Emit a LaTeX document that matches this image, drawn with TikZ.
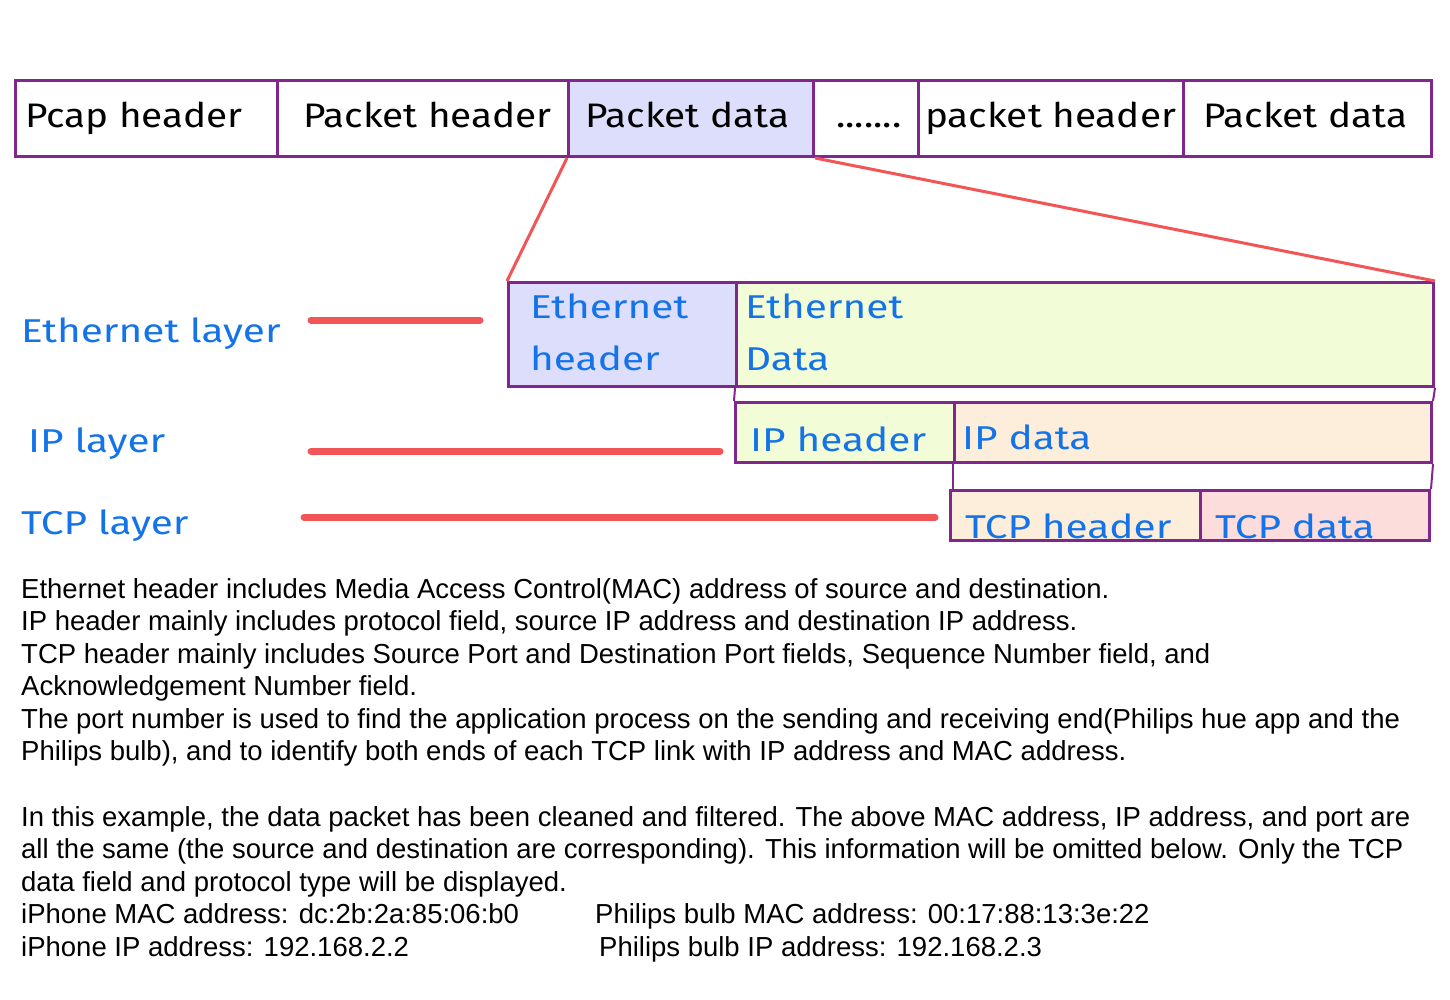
\documentclass[tikz,border=0pt]{standalone}
\usepackage{fontspec}
\setmainfont{Liberation Sans}
\newfontfamily\hand[FakeStretch=1.14]{Fira Sans}
\newfontfamily\bhand[FakeStretch=1.23]{Fira Sans}
\definecolor{pur}{RGB}{128,38,140}
\definecolor{lav}{RGB}{220,222,252}
\definecolor{lgreen}{RGB}{242,252,214}
\definecolor{lorange}{RGB}{253,238,220}
\definecolor{lpink}{RGB}{253,220,220}
\definecolor{redl}{RGB}{242,85,85}
\definecolor{blu}{RGB}{20,115,232}
\begin{document}
\begin{tikzpicture}[x=1pt,y=-1pt,
  box/.style={draw=pur, line width=3pt, inner sep=0pt, anchor=north west},
  toptxt/.style={font=\hand\fontsize{34}{40}\selectfont, text=black, inner sep=0pt},
  bluetxt/.style={font=\bhand\fontsize{33}{40}\selectfont, text=blu, inner sep=0pt, anchor=base west},
  body/.style={font=\fontsize{27.5}{32.5}\selectfont, inner sep=0pt, anchor=base west},
  zoomline/.style={draw=redl, line width=3pt},
  layerline/.style={draw=redl, line width=7pt, line cap=round},
  link/.style={draw=pur, line width=2pt}]
\useasboundingbox[fill=white] (0,0) rectangle (1450,1000);

% top row
\node[box, minimum width=262, minimum height=76] (pcap) at (14,79) {};
\node[box, minimum width=291, minimum height=76] (ph1) at (276,79) {};
\node[box, fill=lav, minimum width=245, minimum height=76] (pd1) at (567,79) {};
\node[box, minimum width=105, minimum height=76] (dots) at (812,79) {};
\node[box, minimum width=265, minimum height=76] (ph2) at (917,79) {};
\node[box, minimum width=248, minimum height=76] (pd2) at (1182,79) {};
\node[toptxt, anchor=base west] (tpcap) at (25,128) {Pcap header};
\node[toptxt, anchor=base west] (tph1) at (303,128) {Packet header};
\node[toptxt, anchor=base west] (tpd1) at (585,128) {Packet data};
\node[toptxt, anchor=base west] (tdots) at (836,128) {.......};
\node[toptxt, anchor=base west] (tph2) at (925,128) {packet header};
\node[toptxt, anchor=base west] (tpd2) at (1203,128) {Packet data};

% ethernet layer
\node[box, fill=lav, minimum width=228, minimum height=104] (eh) at (507,281) {};
\node[box, fill=lgreen, minimum width=697, minimum height=104] (ed) at (735,281) {};
\node[bluetxt] (teh1) at (530,318) {Ethernet};
\node[bluetxt] (teh2) at (530,370) {header};
\node[bluetxt] (ted1) at (745,318) {Ethernet};
\node[bluetxt] (ted2) at (745,370) {Data};

% ip layer
\node[box, fill=lgreen, minimum width=219, minimum height=60] (iph) at (734,401) {};
\node[box, fill=lorange, minimum width=477, minimum height=60] (ipd) at (953,401) {};
\node[bluetxt] (tiph) at (750,451) {IP header};
\node[bluetxt] (tipd) at (962,449) {IP data};

% tcp layer
\node[box, fill=lorange, minimum width=250, minimum height=50] (tcph) at (949,489) {};
\node[box, fill=lpink, minimum width=229, minimum height=50] (tcpd) at (1199,489) {};
\node[bluetxt] (ttcph) at (965,538) {TCP header};
\node[bluetxt] (ttcpd) at (1215,538) {TCP data};

% zoom connectors
\draw[zoomline] (pd1.south west) -- (eh.north west);
\draw[zoomline] (pd1.south east) -- (ed.north east);
\draw[link] (ed.south west) -- (iph.north west);
\draw[link] (ed.south east) -- (ipd.north east);
\draw[link] (ipd.south west) -- (tcph.north west -| ipd.south west);
\draw[link] (ipd.south east) -- (tcpd.north east);

% layer labels
\node[bluetxt] (lEth) at (21,342) {Ethernet layer};
\node[bluetxt] (lIP) at (28,452) {IP layer};
\node[bluetxt] (lTCP) at (21,534) {TCP layer};
\coordinate (e1) at (311,320); \coordinate (e2) at (480,320);
\coordinate (i1) at (311,451); \coordinate (i2) at (720,451);
\coordinate (t1) at (304,517); \coordinate (t2) at (935,517);
\draw[layerline] (e1) -- (e2);
\draw[layerline] (i1) -- (i2);
\draw[layerline] (t1) -- (t2);

% body text
\node[body] (b1) at (21,598) {Ethernet header includes Media Access Control(MAC) address of source and destination.};
\node[body] (b2) at (21,630.5) {IP header mainly includes protocol field, source IP address and destination IP address.};
\node[body] (b3) at (21,663) {TCP header mainly includes Source Port and Destination Port fields, Sequence Number field, and};
\node[body] (b4) at (21,695.5) {Acknowledgement Number field.};
\node[body] (b5) at (21,728) {The port number is used to find the application process on the sending and receiving end(Philips hue app and the};
\node[body] (b6) at (21,760.5) {Philips bulb), and to identify both ends of each TCP link with IP address and MAC address.};
\node[body] (b7) at (21,826) {In this example, the data packet has been cleaned and filtered. The above MAC address, IP address, and port are};
\node[body] (b8) at (21,858.5) {all the same (the source and destination are corresponding). This information will be omitted below. Only the TCP};
\node[body] (b9) at (21,891) {data field and protocol type will be displayed.};
\node[body] (b10) at (21,923.5) {iPhone MAC address: dc:2b:2a:85:06:b0};
\node[body] (b11) at (595,923.5) {Philips bulb MAC address: 00:17:88:13:3e:22};
\node[body] (b12) at (21,956) {iPhone IP address: 192.168.2.2};
\node[body] (b13) at (599,956) {Philips bulb IP address: 192.168.2.3};
\end{tikzpicture}
\end{document}
